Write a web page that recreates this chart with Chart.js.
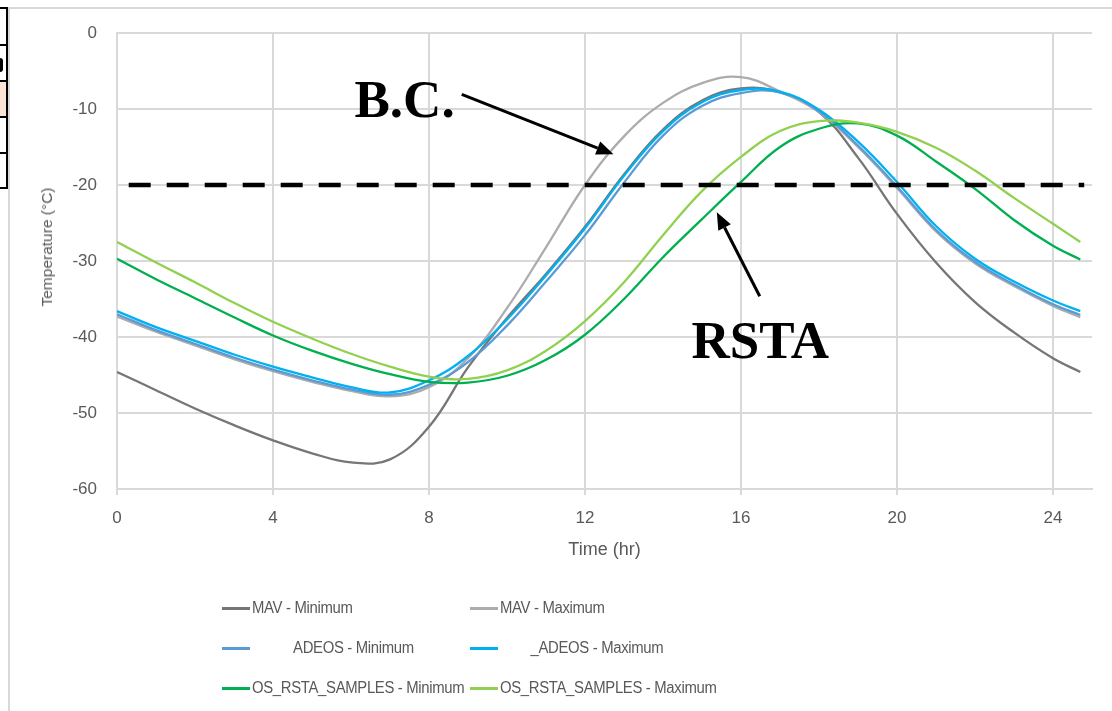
<!DOCTYPE html>
<html>
<head>
<meta charset="utf-8">
<script src="https://cdn.jsdelivr.net/npm/chart.js@4.4.1/dist/chart.umd.min.js"></script>
<style>
html,body{margin:0;padding:0;background:#fff;}
body{width:1112px;height:711px;overflow:hidden;position:relative;font-family:"Liberation Sans",Arial,sans-serif;}
#c{position:absolute;left:0;top:0;}
.deco{position:absolute;}
#ytitle{position:absolute;left:47px;top:247px;transform:translate(-50%,-50%) rotate(-90deg);font-size:15.5px;color:#595959;white-space:nowrap;}
.lg{position:absolute;height:20px;display:flex;align-items:center;white-space:pre;font-size:16px;letter-spacing:-0.35px;color:#595959;}
.lg span.ln{display:inline-block;width:28px;height:3px;margin-right:2px;}
.lg span.tx{display:inline-block;transform:scaleX(0.93);transform-origin:left center;}
</style>
</head>
<body>
<!-- sheet fragments around the chart -->
<div class="deco" style="left:8px;top:7px;width:1104px;height:2px;background:#d9d9d9"></div>
<div class="deco" style="left:8px;top:7px;width:2px;height:704px;background:#d9d9d9"></div>
<div class="deco" style="left:0;top:81px;width:6px;height:36px;background:#fce4d6"></div>
<div class="deco" style="left:6px;top:7px;width:2px;height:182px;background:#000"></div>
<div class="deco" style="left:0;top:7px;width:7px;height:2px;background:#000"></div>
<div class="deco" style="left:0;top:44px;width:7px;height:2px;background:#000"></div>
<div class="deco" style="left:0;top:80px;width:7px;height:2px;background:#000"></div>
<div class="deco" style="left:0;top:116px;width:7px;height:2px;background:#000"></div>
<div class="deco" style="left:0;top:152px;width:7px;height:2px;background:#000"></div>
<div class="deco" style="left:0;top:187px;width:7px;height:2px;background:#000"></div>
<div class="deco" style="left:0;top:58px;width:3px;height:14px;background:#000;border-radius:0 3px 3px 0"></div>

<canvas id="c" width="1112" height="711"></canvas>
<div id="ytitle">Temperature (°C)</div>
<div id="legend"></div>

<script>
// ---- data ----
const times = [0,1,2,3,4,5,6,7,8,9,10,11,12,13,14,15,16,17,18,19,20,21,22,23,24,24.7];
const mavMin   = [-44.6,-47.0,-49.4,-51.6,-53.6,-55.3,-56.5,-56.1,-51.8,-44.0,-37.5,-31.7,-25.5,-18.6,-12.7,-8.9,-7.3,-7.8,-10.4,-16.4,-23.8,-30.2,-35.4,-39.4,-42.8,-44.6];
const mavMax   = [-37.3,-39.3,-41.1,-42.9,-44.5,-45.9,-47.1,-47.8,-46.6,-42.8,-36.2,-28.2,-20.0,-13.6,-9.2,-6.6,-5.8,-7.7,-10.4,-15.0,-20.4,-26.1,-30.3,-33.3,-35.9,-37.4];
const adeosMin = [-37.0,-39.1,-40.9,-42.7,-44.3,-45.7,-46.9,-47.6,-46.3,-43.3,-38.5,-32.7,-26.6,-19.7,-13.5,-9.6,-7.9,-7.8,-10.3,-14.8,-20.2,-25.9,-30.1,-33.1,-35.7,-37.1];
const adeosMax = [-36.6,-38.7,-40.5,-42.3,-43.9,-45.3,-46.6,-47.3,-45.7,-42.5,-37.7,-31.9,-25.7,-18.8,-12.9,-9.1,-7.5,-7.7,-10.1,-14.3,-19.6,-25.4,-29.7,-32.7,-35.2,-36.6];
const osMin    = [-29.7,-32.4,-34.9,-37.4,-39.8,-41.8,-43.5,-44.9,-45.9,-46.0,-45.1,-43.0,-39.7,-35.0,-29.5,-24.5,-19.6,-15.0,-12.6,-11.9,-13.5,-16.9,-20.5,-24.6,-28.0,-29.8];
const osMax    = [-27.5,-30.2,-32.8,-35.5,-38.0,-40.2,-42.2,-43.9,-45.2,-45.5,-44.4,-41.8,-37.9,-32.8,-26.6,-20.8,-16.3,-12.9,-11.6,-11.8,-13.0,-15.1,-18.1,-21.7,-25.1,-27.5];
const thresholdTimes = [0.3, 24.8];
const thresholdTemps = [-20, -20];
const xTicks = [0, 4, 8, 12, 16, 20, 24];
const yTicks = [0, -10, -20, -30, -40, -50, -60];

const seriesLabels = [
  'MAV - Minimum', 'MAV - Maximum',
  '           ADEOS - Minimum', '        _ADEOS - Maximum',
  'OS_RSTA_SAMPLES - Minimum', 'OS_RSTA_SAMPLES - Maximum'
];
const seriesValues = [mavMin, mavMax, adeosMin, adeosMax, osMin, osMax];
const seriesColors = ['#767676', '#acacac', '#5b9bd5', '#00b0f0', '#00b050', '#92d050'];

const notes = [
  {text: 'B.C.', at: [6.09, -11.1], from: [8.84, -8.07], to: [12.73, -15.96]},
  {text: 'RSTA', at: [14.73, -42.8], from: [16.48, -34.64], to: [15.38, -23.6]}
];

const FONT = '"Liberation Sans", Arial, sans-serif';
Chart.defaults.font.family = FONT;

const datasets = seriesValues.map((vals, i) => ({
  label: seriesLabels[i],
  data: times.map((t, k) => ({x: t, y: vals[k]})),
  borderColor: seriesColors[i],
  backgroundColor: seriesColors[i],
  borderWidth: 2.3,
  pointRadius: 0,
  tension: 0.4,
  fill: false,
  order: 10 - i
}));
datasets.push({
  label: 'threshold',
  data: thresholdTimes.map((t, k) => ({x: t, y: thresholdTemps[k]})),
  borderColor: '#000',
  borderWidth: 4.5,
  borderDash: [22, 16],
  pointRadius: 0,
  tension: 0,
  fill: false,
  order: 0
});

const notesPlugin = {
  id: 'notes',
  afterDatasetsDraw(chart) {
    const {ctx, scales: {x, y}} = chart;
    ctx.save();
    notes.forEach(n => {
      ctx.fillStyle = '#000';
      ctx.strokeStyle = '#000';
      ctx.font = 'bold 53px "Liberation Serif", "Times New Roman", serif';
      ctx.textAlign = 'left';
      ctx.textBaseline = 'alphabetic';
      ctx.fillText(n.text, x.getPixelForValue(n.at[0]), y.getPixelForValue(n.at[1]));
      const x1 = x.getPixelForValue(n.from[0]), y1 = y.getPixelForValue(n.from[1]);
      const x2 = x.getPixelForValue(n.to[0]), y2 = y.getPixelForValue(n.to[1]);
      const ang = Math.atan2(y2 - y1, x2 - x1);
      const hl = 17, hw = 7;
      const bx = x2 - hl * Math.cos(ang), by = y2 - hl * Math.sin(ang);
      ctx.lineWidth = 3;
      ctx.beginPath();
      ctx.moveTo(x1, y1);
      ctx.lineTo(bx, by);
      ctx.stroke();
      ctx.beginPath();
      ctx.moveTo(x2, y2);
      ctx.lineTo(bx + hw * Math.sin(ang), by - hw * Math.cos(ang));
      ctx.lineTo(bx - hw * Math.sin(ang), by + hw * Math.cos(ang));
      ctx.closePath();
      ctx.fill();
    });
    ctx.restore();
  }
};

const chart = new Chart(document.getElementById('c'), {
  type: 'line',
  data: {datasets},
  options: {
    responsive: false,
    animation: false,
    devicePixelRatio: 1,
    layout: {padding: {left: 37, right: 20, top: 33, bottom: 146}},
    plugins: {legend: {display: false}, tooltip: {enabled: false}},
    scales: {
      x: {
        type: 'linear', min: 0, max: 25,
        afterBuildTicks(s) { s.ticks = xTicks.map(v => ({value: v})); },
        ticks: {color: '#595959', font: {size: 17}, padding: 13, maxRotation: 0, includeBounds: false},
        grid: {color: '#d9d9d9', lineWidth: 2, tickLength: 6, drawTicks: true},
        border: {color: '#d9d9d9', width: 2},
        title: {display: true, text: 'Time (hr)', color: '#595959', font: {size: 18}, padding: {top: 4, bottom: 4}},
        afterFit(s) { s.height = 76; }
      },
      y: {
        type: 'linear', min: -60, max: 0,
        afterBuildTicks(s) { s.ticks = yTicks.slice().reverse().map(v => ({value: v})); },
        ticks: {color: '#595959', font: {size: 17}, padding: 20},
        grid: {color: '#d9d9d9', lineWidth: 2, drawTicks: false},
        border: {color: '#d9d9d9', width: 2},
        afterFit(s) { s.width = 80; }
      }
    }
  },
  plugins: [notesPlugin]
});

// custom legend (2 columns x 3 rows) built from the datasets
const legendCols = [222, 470];
const legendRows = [608, 648, 688];
const legendEl = document.getElementById('legend');
chart.data.datasets.slice(0, 6).forEach((ds, i) => {
  const d = document.createElement('div');
  d.className = 'lg';
  d.style.left = legendCols[i % 2] + 'px';
  d.style.top = (legendRows[Math.floor(i / 2)] - 10) + 'px';
  const ln = document.createElement('span');
  ln.className = 'ln';
  ln.style.background = ds.borderColor;
  const tx = document.createElement('span');
  tx.className = 'tx';
  tx.textContent = ds.label;
  d.appendChild(ln);
  d.appendChild(tx);
  legendEl.appendChild(d);
});
</script>
</body>
</html>
